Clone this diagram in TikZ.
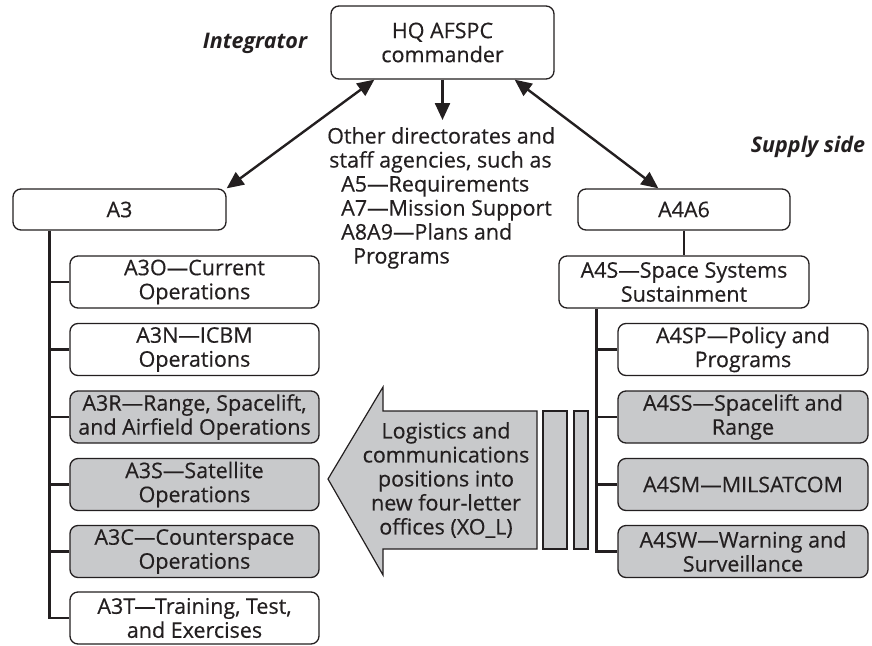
\documentclass[tikz,border=0pt]{standalone}
\usepackage{fontspec}
\setmainfont{Open Sans}[UprightFeatures={FakeBold=0.4}]
\usetikzlibrary{arrows.meta}
\definecolor{ink}{RGB}{35,31,32}
\definecolor{boxgray}{RGB}{200,201,203}
\newcommand\bodysz{\fontsize{21.5}{24}\selectfont}
\begin{document}
\begin{tikzpicture}[x=1pt,y=-1pt,
  every node/.style={text=ink},
  box/.style={draw=ink, rounded corners=8pt, line width=1.3pt, align=center,
    inner sep=0pt, font=\bodysz, fill=white},
  gbox/.style={box, fill=boxgray},
  lbox/.style={minimum width=249pt, minimum height=52pt},
  rbox/.style={minimum width=250pt, minimum height=52pt},
  conn/.style={draw=ink, line width=2.4pt},
  tip/.style={},
  arr/.style={conn, -{Triangle[length=17pt,width=15pt]}},
  dbl/.style={conn, {Triangle[length=17pt,width=15pt]}-{Triangle[length=17pt,width=15pt]}},
  lbl/.style={font=\bodysz\bfseries\itshape, inner sep=0pt},
  txt/.style={font=\bodysz, inner sep=0pt}
]
\useasboundingbox (0,0) rectangle (872,645);

% top
\node[box, minimum width=223pt, minimum height=73pt] (HQ) at (442.5,42.5) {HQ AFSPC\\commander};
\node[lbl] (integ) at (255,43) {Integrator};
\node[lbl] (supply) at (808,147) {Supply side};

\node[txt, align=left, anchor=north west] (other) at (327,127) {Other directorates and\\
\hspace*{2pt}staff agencies, such as\\
\hspace*{14pt}A5---Requirements\\
\hspace*{14pt}A7---Mission Support\\
\hspace*{14pt}A8A9---Plans and\\
\hspace*{26pt}Programs};
\coordinate (otop) at (442.5,120);

% left branch
\node[box, minimum width=213pt, minimum height=41pt] (A3) at (119.5,209.5) {A3};
\node[box, lbox] (A3O) at (194.5,282) {A3O---Current\\Operations};
\node[box, lbox] (A3N) at (194.5,349.5) {A3N---ICBM\\Operations};
\node[gbox, lbox] (A3R) at (194.5,417) {A3R---Range, Spacelift,\\and Airfield Operations};
\node[gbox, lbox] (A3S) at (194.5,484.5) {A3S---Satellite\\Operations};
\node[gbox, lbox] (A3C) at (194.5,551.5) {A3C---Counterspace\\Operations};
\node[box, lbox] (A3T) at (194.5,618) {A3T---Training, Test,\\and Exercises};

% right branch
\node[box, minimum width=212pt, minimum height=41pt] (A4A6) at (684,209.5) {A4A6};
\node[box, rbox] (A4S) at (684,282) {A4S---Space Systems\\Sustainment};
\node[box, rbox] (A4SP) at (743,349.5) {A4SP---Policy and\\Programs};
\node[gbox, rbox] (A4SS) at (743,417) {A4SS---Spacelift and\\Range};
\node[gbox, rbox] (A4SM) at (743,484.5) {A4SM---MILSATCOM};
\node[gbox, rbox] (A4SW) at (743,551.5) {A4SW---Warning and\\Surveillance};

% tree connectors
\coordinate (lv) at ([xshift=37pt]A3.south west);
\draw[conn] (lv) |- (A3T.west);
\foreach \n in {A3O,A3N,A3R,A3S,A3C}{\draw[conn] (\n.west) -- (\n.west -| lv);}
\coordinate (rv) at ([xshift=38pt]A4S.south west);
\draw[conn] (rv) |- (A4SW.west);
\foreach \n in {A4SP,A4SS,A4SM}{\draw[conn] (\n.west) -- (\n.west -| rv);}
\draw[conn] (A4A6.south) -- (A4S.north);

% arrows from HQ
\draw[dbl] ([xshift=44pt]HQ.south west) -- (A3.north east);
\draw[dbl] ([xshift=-40pt]HQ.south east) -- ([xshift=81pt]A4A6.north west);
\draw[arr] (HQ.south) -- (otop);

% big arrow
\draw[ink, line width=1.2pt, fill=boxgray] (328,479) -- (383,387) -- (383,411) -- (537,411)
  -- (537,549) -- (383,549) -- (383,575) -- cycle;
\draw[ink, line width=1.2pt, fill=boxgray] (543,411) rectangle (567,549);
\draw[ink, line width=1.2pt, fill=boxgray] (574,411) rectangle (588,549);
\node[txt, align=center] (logi) at (446,480) {Logistics and\\communications\\positions into\\new four-letter\\offices (XO\_L)};
\end{tikzpicture}
\end{document}
